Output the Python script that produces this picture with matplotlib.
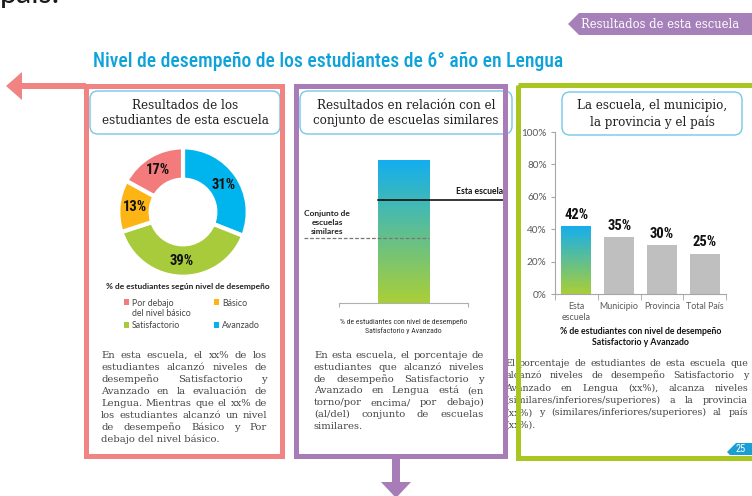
import matplotlib
matplotlib.use("Agg")
import matplotlib.pyplot as plt
import numpy as np
from matplotlib.patches import FancyBboxPatch, Polygon, Rectangle
from matplotlib.colors import LinearSegmentedColormap

# ---------------- data ----------------
donut_labels = ["Avanzado", "Satisfactorio", "Básico", "Por debajo del nivel básico"]
donut_values = [31, 39, 13, 17]
donut_colors = ["#00b4ee", "#a7cb3b", "#fdb515", "#f47b7b"]

legend_labels = ["Por debajo\ndel nivel básico", "Básico", "Satisfactorio", "Avanzado"]
legend_colors = ["#f47b7b", "#fdb515", "#a7cb3b", "#00b4ee"]

mid_bar_value = 88
mid_school_value = 63
mid_similar_value = 40

comp_categories = ["Esta\nescuela", "Municipio", "Provincia", "Total País"]
comp_values = [0.42, 0.35, 0.30, 0.25]
comp_ticks = [0, 0.2, 0.4, 0.6, 0.8, 1.0]

TITLE = "Nivel de desempeño de los estudiantes de 6° año en Lengua"
TAG = "Resultados de esta escuela"
HEAD1 = "Resultados de los\nestudiantes de esta escuela"
HEAD2 = "Resultados en relación con el\nconjunto de escuelas similares"
HEAD3 = "La escuela, el municipio,\nla provincia y el país"

PARA1 = ["En esta escuela, el xx% de los",
         "estudiantes alcanzó niveles de",
         "desempeño Satisfactorio y",
         "Avanzado en la evaluación de",
         "Lengua. Mientras que el xx% de",
         "los estudiantes alcanzó un nivel",
         "de desempeño Básico y Por",
         "debajo del nivel básico."]
PARA2 = ["En esta escuela, el porcentaje de",
         "estudiantes que alcanzó niveles",
         "de desempeño Satisfactorio y",
         "Avanzado en Lengua está (en",
         "torno/por encima/ por debajo)",
         "(al/del) conjunto de escuelas",
         "similares."]
PARA3 = ["El porcentaje de  estudiantes de esta escuela que",
         "alcanzó niveles de desempeño Satisfactorio y",
         "Avanzado en Lengua (xx%), alcanza niveles",
         "(similares/inferiores/superiores) a la provincia",
         "(xx%) y (similares/inferiores/superiores) al país",
         "(xx%)."]

# ---------------- style ----------------
COND = ["Roboto Condensed", "Liberation Sans Narrow", "DejaVu Sans"]
SANS = ["Lato", "DejaVu Sans"]
SERIF = ["DejaVu Serif"]
PINK = "#f08482"
PURPLE = "#a87cb7"
GREEN = "#a8c61f"
BLUE = "#0ea2da"
LBLUE = "#74c8ea"
TXT = "#454545"

W, H = 752, 496
fig = plt.figure(figsize=(W / 100, H / 100), dpi=100)
fig.patch.set_facecolor("white")


def fax(l, t, r, b, **kw):
    return fig.add_axes([l / W, 1 - b / H, (r - l) / W, (b - t) / H], **kw)


ov = fig.add_axes([0, 0, 1, 1], zorder=5)
ov.set_xlim(0, W)
ov.set_ylim(H, 0)
ov.axis("off")
renderer = fig.canvas.get_renderer()


def tw(t):
    return t.get_window_extent(renderer).width


# cut-off word at the very top (cut in the reference as well)
ov.text(0, 3, "país.", fontsize=22, family=SANS, color="#1a1a1a", va="baseline", ha="left")

# tag
ov.add_patch(Polygon([(568, 24), (579, 13), (752, 13), (752, 35), (579, 35)],
                     closed=True, facecolor="#a681b9", edgecolor="none", zorder=2))
ov.text(581, 24.5, TAG, color="white", family=SERIF, fontsize=8.3, va="center", ha="left", zorder=3)

# title fitted to width
tt = ov.text(93, 67, TITLE, fontsize=20, family=COND, color=BLUE, va="baseline", ha="left",
             fontweight="medium")
tt.set_fontsize(20 * 471 / tw(tt))

# frames
LW = 5 * 72 / 100
ov.add_patch(Rectangle((86, 86), 196, 370, fill=False, edgecolor=PINK, lw=LW, joinstyle="miter", zorder=3))
ov.add_patch(Rectangle((296, 86), 209, 370, fill=False, edgecolor=PURPLE, lw=LW, joinstyle="miter", zorder=3))
ov.add_patch(Rectangle((518, 85), 260, 373, fill=False, edgecolor=GREEN, lw=LW, joinstyle="miter", zorder=3))

# left arrow
ov.plot([20, 86], [86, 86], color=PINK, lw=6 * 0.72, solid_capstyle="butt", zorder=3)
ov.add_patch(Polygon([(6, 86), (22, 72), (22, 100)], closed=True, facecolor=PINK, edgecolor="none", zorder=3))

# down arrow
ov.plot([396, 396], [456, 483], color=PURPLE, lw=8 * 0.72, solid_capstyle="butt", zorder=3)
ov.add_patch(Polygon([(381, 482), (411, 482), (396, 498)], closed=True, facecolor=PURPLE, edgecolor="none", zorder=3))

# page badge
ov.add_patch(Polygon([(752, 443), (736, 443), (727, 452), (730, 455), (752, 455)], closed=True,
                     facecolor="#1a9fd5", edgecolor="none", zorder=4))
ov.text(741, 449.5, "25", color="white", family=COND, fontsize=7.5, ha="center", va="center", zorder=5)

# header boxes
for (l, t, r, b), txt in [((90, 91, 280, 134), HEAD1), ((300, 91, 512, 134), HEAD2), ((562, 92, 742, 135), HEAD3)]:
    ov.add_patch(FancyBboxPatch((l, t), r - l, b - t, boxstyle="round,pad=0,rounding_size=8",
                                facecolor="white", edgecolor=LBLUE, lw=1.0, zorder=1))
    ov.text((l + r) / 2, (t + b) / 2 + 0.5, txt, ha="center", va="center", family=SERIF,
            fontsize=8.6, color="#222222", linespacing=1.25, zorder=4)


# justified paragraphs: font size chosen so the longest line fits naturally
def justify(lines, x0, x1, y0, dy, zorder=4):
    probes = [ov.text(0, 0, ln, family=SERIF, fontsize=10) for ln in lines[:-1]]
    maxw = max(tw(p) for p in probes)
    for p in probes:
        p.remove()
    size = 10 * (x1 - x0) / maxw * 0.99
    for i, line in enumerate(lines):
        y = y0 + i * dy
        words = line.split()
        if i == len(lines) - 1 or len(words) < 2:
            ov.text(x0, y, line, ha="left", va="baseline", family=SERIF, fontsize=size, color=TXT, zorder=zorder)
            continue
        ts = [ov.text(0, y, w, ha="left", va="baseline", family=SERIF, fontsize=size, color=TXT, zorder=zorder)
              for w in words]
        ws = [tw(t) for t in ts]
        gap = (x1 - x0 - sum(ws)) / (len(words) - 1)
        x = x0
        for t, w in zip(ts, ws):
            t.set_x(x)
            x += w + gap


justify(PARA1, 101, 267, 358, 12.0)
justify(PARA2, 314, 484, 358, 11.8)
justify(PARA3, 505, 748, 366, 12.3, zorder=2)

# ---------------- donut ----------------
ax1 = fax(117, 146, 249, 278, zorder=1)
wedges, _, autot = ax1.pie(donut_values, colors=donut_colors, startangle=90, counterclock=False,
                           radius=1, autopct="%.0f%%", pctdistance=0.75,
                           wedgeprops=dict(width=0.5, edgecolor="white", linewidth=3),
                           textprops=dict(family=COND, fontsize=10.5, fontweight="bold", color="#111111"))
ax1.set_xlim(-1.02, 1.02)
ax1.set_ylim(-1.02, 1.02)
ax1.set_aspect("equal")

ov.text(188, 286, "% de estudiantes según nivel de desempeño", ha="center", va="center",
        family=SANS, fontsize=6.0, fontweight="bold", color="#222222")
for (sx, sy), lab, col in zip([(126.5, 302), (216.5, 302), (126.5, 325), (216.5, 325)], legend_labels, legend_colors):
    ov.add_patch(Rectangle((sx - 2.8, sy - 2.8), 5.6, 5.6, facecolor=col, edgecolor="none"))
    ov.text(sx + 5.5, sy - 3.5, lab, ha="left", va="top", family=SANS, fontsize=6.3, color=TXT, linespacing=1.25)

# ---------------- middle chart ----------------
grad_cmap = LinearSegmentedColormap.from_list("g", ["#aacf36", "#12aef0"])
ax2 = fax(339, 140, 468, 303, zorder=1)
bars = ax2.bar([0], [mid_bar_value], width=0.4, color="none", edgecolor="none")
r = bars[0]
im = ax2.imshow(np.linspace(0, 1, 256).reshape(-1, 1), cmap=grad_cmap, origin="lower", aspect="auto",
                extent=[r.get_x(), r.get_x() + r.get_width(), 0, r.get_height()], zorder=1)
im.set_clip_path(r)
ax2.set_xlim(-0.5, 0.5)
ax2.set_ylim(0, 100)
ax2.plot([-0.2, 0.79], [mid_school_value] * 2, color="black", lw=1.1, clip_on=False, zorder=3)
ax2.plot([-0.771, 0.2], [mid_similar_value] * 2, color="#777777", lw=0.9, ls=(0, (3, 1.5)), clip_on=False, zorder=3)
ax2.text(0.77, mid_school_value + 2.5, "Esta escuela", ha="right", va="bottom", family=SANS,
         fontsize=6.2, fontweight="bold", color="#111111")
ax2.text(-0.593, mid_similar_value + 2.0, "Conjunto de\nescuelas\nsimilares", ha="center", va="bottom",
         family=SANS, fontsize=6.0, fontweight="bold", color="#222222", linespacing=1.3)
for s in ["top", "right", "left"]:
    ax2.spines[s].set_visible(False)
ax2.spines["bottom"].set_color("#b0b0b0")
ax2.spines["bottom"].set_linewidth(0.8)
ax2.set_yticks([])
ax2.set_xticks([-0.5, 0.5])
ax2.set_xticklabels([])
ax2.tick_params(axis="x", length=3, color="#b0b0b0", direction="out")
ax2.set_xlabel("% de estudiantes con nivel de desempeño\nSatisfactorio y Avanzado", family=COND,
               fontsize=5.6, color="#333333", labelpad=5, linespacing=1.35)
ax2.patch.set_alpha(0)

# ---------------- right chart ----------------
ax3 = fax(555, 132, 726, 294, zorder=1)
xs = np.arange(len(comp_values))
bars3 = ax3.bar(xs, comp_values, width=0.7, color=["none", "#bfbfbf", "#bfbfbf", "#bfbfbf"], edgecolor="none")
r3 = bars3[0]
im3 = ax3.imshow(np.linspace(0, 1, 256).reshape(-1, 1), cmap=grad_cmap, origin="lower", aspect="auto",
                 extent=[r3.get_x(), r3.get_x() + r3.get_width(), 0, r3.get_height()], zorder=1)
im3.set_clip_path(r3)
ax3.set_xlim(-0.5, len(comp_values) - 0.5)
ax3.set_ylim(0, 1)
for x, v in zip(xs, comp_values):
    ax3.text(x, v + 0.025, f"{v * 100:.0f}%", ha="center", va="bottom", family=COND, fontsize=10.5,
             fontweight="bold", color="#111111")
ax3.set_yticks(comp_ticks)
ax3.set_yticklabels([f"{t * 100:.0f}%" for t in comp_ticks])
ax3.set_xticks(xs)
ax3.set_xticklabels(comp_categories)
ax3.set_xticks(np.arange(len(comp_values) + 1) - 0.5, minor=True)
ax3.tick_params(axis="x", which="major", length=0, pad=6, labelsize=6.4, labelcolor="#595959")
ax3.tick_params(axis="x", which="minor", length=4, color="#a6a6a6")
ax3.tick_params(axis="y", length=3, color="#a6a6a6", labelsize=7.2, labelcolor="#595959", pad=3)
for lab in ax3.get_xticklabels() + ax3.get_yticklabels():
    lab.set_family(SANS)
for s in ["top", "right"]:
    ax3.spines[s].set_visible(False)
for s in ["left", "bottom"]:
    ax3.spines[s].set_color("#a6a6a6")
    ax3.spines[s].set_linewidth(0.8)
ax3.set_xlabel("% de estudiantes con nivel de desempeño\nSatisfactorio y Avanzado", family=SANS,
               fontsize=6.3, fontweight="bold", color="#111111", labelpad=4, linespacing=1.3)
ax3.patch.set_alpha(0)

fig.savefig("out.png", dpi=100, facecolor="white")
